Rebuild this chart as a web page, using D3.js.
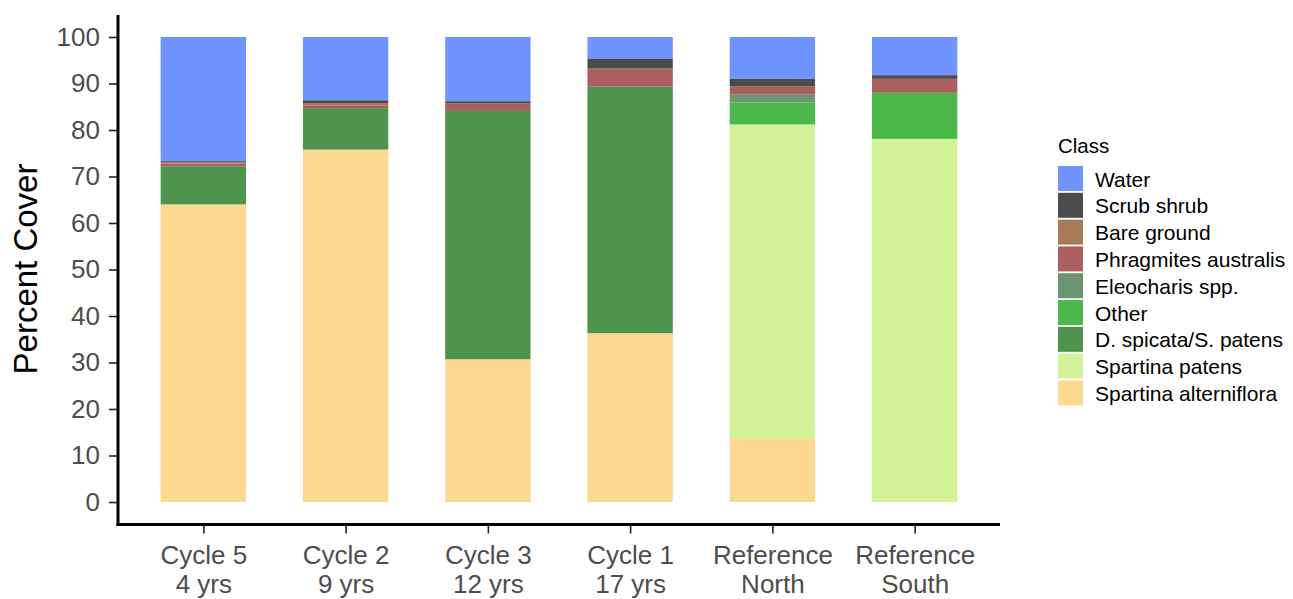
<!DOCTYPE html>
<html>
<head>
<meta charset="utf-8">
<script src="https://cdn.jsdelivr.net/npm/d3@7"></script>
<style>
  body { margin: 0; background: #fff; }
  svg { display: block; font-family: "Liberation Sans", Arial, sans-serif; }
</style>
</head>
<body>
<svg id="chart" width="1293" height="599"></svg>
<script>
// Sites, ordered by age since restoration
const sites = ["Cycle 5|4 yrs", "Cycle 2|9 yrs", "Cycle 3|12 yrs", "Cycle 1|17 yrs", "Reference|North", "Reference|South"];

// Cover classes, stacked from the bottom up
const classes = ["Spartina alterniflora", "Spartina patens", "D. spicata/S. patens", "Other",
                 "Eleocharis spp.", "Phragmites australis", "Bare ground", "Scrub shrub", "Water"];
const classColors = ["#fdd891", "#d2f297", "#4e944d", "#4cb84b", "#6b9470", "#ab5f5e", "#a87a58", "#4b4b4b", "#6f94ff"];

// Percent cover per class, one value per site
const spartinaAlterniflora = [64.0, 75.8, 30.7, 36.3, 13.8, 0];
const spartinaPatens       = [0, 0, 0, 0, 67.4, 78.1];
const dSpicataSPatens      = [8.2, 8.9, 53.4, 53.0, 0, 0];
const other                = [0, 0, 0, 0, 4.7, 9.9];
const eleocharis           = [0, 0, 0, 0, 1.8, 0];
const phragmites           = [0.6, 0.5, 1.6, 3.6, 1.7, 3.0];
const bareGround           = [0.3, 0.6, 0, 0.3, 0, 0];
const scrubShrub           = [0.2, 0.6, 0.5, 2.2, 1.6, 0.8];
const water                = [26.7, 13.6, 13.8, 4.6, 9.0, 8.2];

const yTicks = [0, 10, 20, 30, 40, 50, 60, 70, 80, 90, 100];

const seriesValues = [spartinaAlterniflora, spartinaPatens, dSpicataSPatens, other,
                      eleocharis, phragmites, bareGround, scrubShrub, water];

const rows = sites.map((s, i) => {
  const r = { site: s };
  classes.forEach((c, k) => { r[c] = seriesValues[k][i]; });
  return r;
});

const svg = d3.select("#chart");
const plot = { left: 118, right: 1000, top: 15, bottom: 524.5 };

const x = d3.scaleLinear().domain([0.4, sites.length + 0.6]).range([plot.left, plot.right]);
const y = d3.scaleLinear().domain([0, 100]).range([502, 37]);
const barWidth = 0.6 * (x(2) - x(1));
const color = d3.scaleOrdinal().domain(classes).range(classColors);

const stack = d3.stack().keys(classes);
const layers = stack(rows);

svg.append("g").selectAll("g")
  .data(layers)
  .join("g")
  .attr("fill", d => color(d.key))
  .selectAll("rect")
  .data(d => d)
  .join("rect")
  .attr("x", (d, i) => x(i + 1) - barWidth / 2)
  .attr("width", barWidth)
  .attr("y", d => y(d[1]))
  .attr("height", d => Math.max(0, y(d[0]) - y(d[1])));

// Y axis
const yAxis = svg.append("g").attr("transform", `translate(${plot.left},0)`)
  .call(d3.axisLeft(y).tickValues(yTicks).tickSize(9).tickPadding(9));
yAxis.select(".domain").remove();
yAxis.selectAll(".tick line").attr("stroke", "#222").attr("stroke-width", 1.6);
yAxis.selectAll(".tick text").attr("fill", "#4d4d4d").attr("font-size", 26);
svg.append("line")
  .attr("x1", plot.left).attr("x2", plot.left)
  .attr("y1", plot.top).attr("y2", plot.bottom + 1.5)
  .attr("stroke", "#000").attr("stroke-width", 3);

// X axis
const xAxis = svg.append("g").attr("transform", `translate(0,${plot.bottom})`)
  .call(d3.axisBottom(x).tickValues(d3.range(1, sites.length + 1)).tickSize(9).tickFormat(""));
xAxis.select(".domain").remove();
xAxis.selectAll(".tick line").attr("stroke", "#222").attr("stroke-width", 1.6);
xAxis.selectAll(".tick").each(function(v) {
  const parts = sites[v - 1].split("|");
  const t = d3.select(this).append("text")
    .attr("fill", "#4d4d4d").attr("font-size", 26).attr("text-anchor", "middle");
  t.append("tspan").attr("x", 0).attr("y", 39.5).text(parts[0]);
  t.append("tspan").attr("x", 0).attr("y", 68).text(parts[1]);
});
svg.append("line")
  .attr("x1", plot.left - 1.5).attr("x2", plot.right)
  .attr("y1", plot.bottom).attr("y2", plot.bottom)
  .attr("stroke", "#000").attr("stroke-width", 3);

// Y axis title
svg.append("text")
  .attr("transform", "translate(37,269) rotate(-90)")
  .attr("text-anchor", "middle")
  .attr("font-size", 33)
  .attr("fill", "#000")
  .text("Percent Cover");

// Legend, listed top-down in reverse stacking order
const legend = svg.append("g").attr("transform", "translate(1058,0)");
legend.append("text").attr("x", 0).attr("y", 152.5).attr("font-size", 20.5).attr("fill", "#000").text("Class");
const legendItems = classes.slice().reverse();
const item = legend.selectAll("g.item").data(legendItems).join("g")
  .attr("class", "item")
  .attr("transform", (d, i) => `translate(0,${166 + i * 26.8})`);
item.append("rect").attr("width", 25).attr("height", 25).attr("fill", d => color(d));
item.append("text").attr("x", 37).attr("y", 20.5).attr("font-size", 21).attr("fill", "#000").text(d => d);
</script>
</body>
</html>
